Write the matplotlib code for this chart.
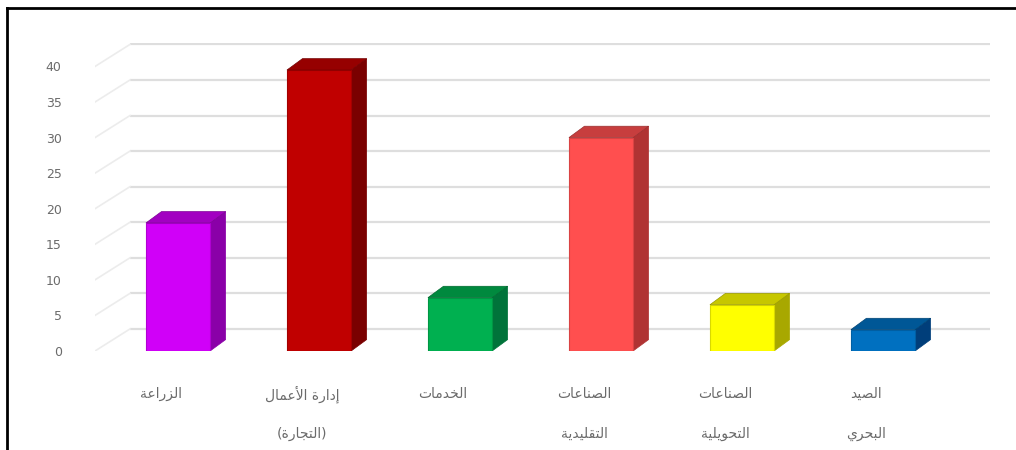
import matplotlib
matplotlib.use("Agg")
import matplotlib.pyplot as plt
from matplotlib.patches import Polygon
from matplotlib.lines import Line2D
from matplotlib.colors import to_rgb

# ---------------- data ----------------
categories = [
    ["الزراعة"],
    ["إدارة الأعمال", "(التجارة)"],
    ["الخدمات"],
    ["الصناعات", "التقليدية"],
    ["الصناعات", "التحويلية"],
    ["الصيد", "البحري"],
]
values = [18, 39.5, 7.5, 30, 6.5, 3]
front_colors = ["#D000F8", "#C00000", "#00B050", "#FF4F4F", "#FFFF00", "#0070C0"]
side_colors = ["#8A00A8", "#7A0000", "#00733A", "#B03333", "#A8A800", "#003E7A"]
yticks = [0, 5, 10, 15, 20, 25, 30, 35, 40]

# ---------------- Arabic shaping (presentation forms) ----------------
FORMS = {
    "ا": ("\uFE8D", "\uFE8E", None, None),
    "أ": ("\uFE83", "\uFE84", None, None),
    "إ": ("\uFE87", "\uFE88", None, None),
    "ب": ("\uFE8F", "\uFE90", "\uFE91", "\uFE92"),
    "ة": ("\uFE93", "\uFE94", None, None),
    "ت": ("\uFE95", "\uFE96", "\uFE97", "\uFE98"),
    "ج": ("\uFE9D", "\uFE9E", "\uFE9F", "\uFEA0"),
    "ح": ("\uFEA1", "\uFEA2", "\uFEA3", "\uFEA4"),
    "خ": ("\uFEA5", "\uFEA6", "\uFEA7", "\uFEA8"),
    "د": ("\uFEA9", "\uFEAA", None, None),
    "ر": ("\uFEAD", "\uFEAE", None, None),
    "ز": ("\uFEAF", "\uFEB0", None, None),
    "ص": ("\uFEB9", "\uFEBA", "\uFEBB", "\uFEBC"),
    "ع": ("\uFEC9", "\uFECA", "\uFECB", "\uFECC"),
    "ف": ("\uFED1", "\uFED2", "\uFED3", "\uFED4"),
    "ق": ("\uFED5", "\uFED6", "\uFED7", "\uFED8"),
    "ل": ("\uFEDD", "\uFEDE", "\uFEDF", "\uFEE0"),
    "م": ("\uFEE1", "\uFEE2", "\uFEE3", "\uFEE4"),
    "ن": ("\uFEE5", "\uFEE6", "\uFEE7", "\uFEE8"),
    "و": ("\uFEED", "\uFEEE", None, None),
    "ي": ("\uFEF1", "\uFEF2", "\uFEF3", "\uFEF4"),
}
LAMALEF = {"ا": ("\uFEFB", "\uFEFC"), "أ": ("\uFEF7", "\uFEF8"), "إ": ("\uFEF9", "\uFEFA")}
DUAL = {k for k, v in FORMS.items() if v[2] is not None}
MIRROR = {"(": ")", ")": "("}


def shape_ar(text):
    chars = list(text)
    n = len(chars)
    out = []
    i = 0
    while i < n:
        c = chars[i]
        if c not in FORMS:
            out.append(c)
            i += 1
            continue
        prev = chars[i - 1] if i > 0 else None
        joins_prev = prev in DUAL
        if c == "ل" and i + 1 < n and chars[i + 1] in LAMALEF:
            iso, fin = LAMALEF[chars[i + 1]]
            out.append(fin if joins_prev else iso)
            i += 2
            continue
        nxt = chars[i + 1] if i + 1 < n else None
        joins_next = c in DUAL and nxt in FORMS
        iso, fin, ini, med = FORMS[c]
        if joins_prev and joins_next:
            out.append(med)
        elif joins_prev:
            out.append(fin)
        elif joins_next:
            out.append(ini)
        else:
            out.append(iso)
        i += 1
    return "".join(MIRROR.get(ch, ch) for ch in reversed(out))


# ---------------- figure ----------------
W, H = 1016, 450
fig = plt.figure(figsize=(W / 100, H / 100), dpi=100)
fig.patch.set_facecolor("white")

ax_left_px, ax_right_px = 95, 990
ax_bottom_px, ax_top_px = 351, 43
ax = fig.add_axes([ax_left_px / W, 1 - ax_bottom_px / H,
                   (ax_right_px - ax_left_px) / W, (ax_bottom_px - ax_top_px) / H])
ax.set_xlim(-0.589, 5.759)
ax.set_ylim(0, 43.3)
for s in ax.spines.values():
    s.set_visible(False)
ax.set_facecolor("none")

x = list(range(len(values)))

# back wall gridlines + left side wall lines
wall_dx, wall_dy = 0.248, 3.1
x0 = ax.get_xlim()[0]
x1 = ax.get_xlim()[1]
for t in yticks:
    ax.plot([x0 + wall_dx, x1], [t + wall_dy, t + wall_dy], color="#dedede", lw=1.6,
            zorder=0, solid_capstyle="butt")
    ax.plot([x0, x0 + wall_dx], [t, t + wall_dy], color="#ececec", lw=1.2, zorder=0)

# 3D bars
bw = 0.455
ddx, ddy = 0.11, 1.6


def darker(c, f):
    r, g, b = to_rgb(c)
    return (r * f, g * f, b * f)


for xi, v, fc, sc in zip(x, values, front_colors, side_colors):
    ax.bar(xi, v, width=bw, color=fc, edgecolor=darker(fc, 0.85), linewidth=0.8, zorder=3)
    side = Polygon([(xi + bw / 2, 0), (xi + bw / 2 + ddx, ddy),
                    (xi + bw / 2 + ddx, v + ddy), (xi + bw / 2, v)],
                   closed=True, facecolor=sc, edgecolor=sc, lw=0.5, zorder=2)
    top = Polygon([(xi - bw / 2, v), (xi + bw / 2, v),
                   (xi + bw / 2 + ddx, v + ddy), (xi - bw / 2 + ddx, v + ddy)],
                  closed=True, facecolor=darker(fc, 0.78), edgecolor=darker(fc, 0.6),
                  lw=0.5, zorder=4)
    ax.add_patch(side)
    ax.add_patch(top)

# y ticks
ax.set_yticks(yticks)
ax.set_yticklabels([str(t) for t in yticks], color="#6b6b6b", fontsize=9)
ax.tick_params(axis="y", length=0, pad=24)
ax.set_xticks([])

# category labels
lab_y = [-0.14, -0.27]
for xi, lines in zip(x, categories):
    for li, line in enumerate(lines):
        ax.text(xi - 0.12, lab_y[li], shape_ar(line), transform=ax.get_xaxis_transform(),
                ha="center", va="center", fontsize=10, color="#6b6b6b",
                family=["DejaVu Sans"])

# frame (top and left edges)
fig.add_artist(Line2D([7 / W, 1.0], [1 - 8 / H, 1 - 8 / H], color="black", lw=2,
                      transform=fig.transFigure))
fig.add_artist(Line2D([7 / W, 7 / W], [0, 1 - 8 / H], color="black", lw=2,
                      transform=fig.transFigure))

fig.savefig("out.png", dpi=100, facecolor="white")
